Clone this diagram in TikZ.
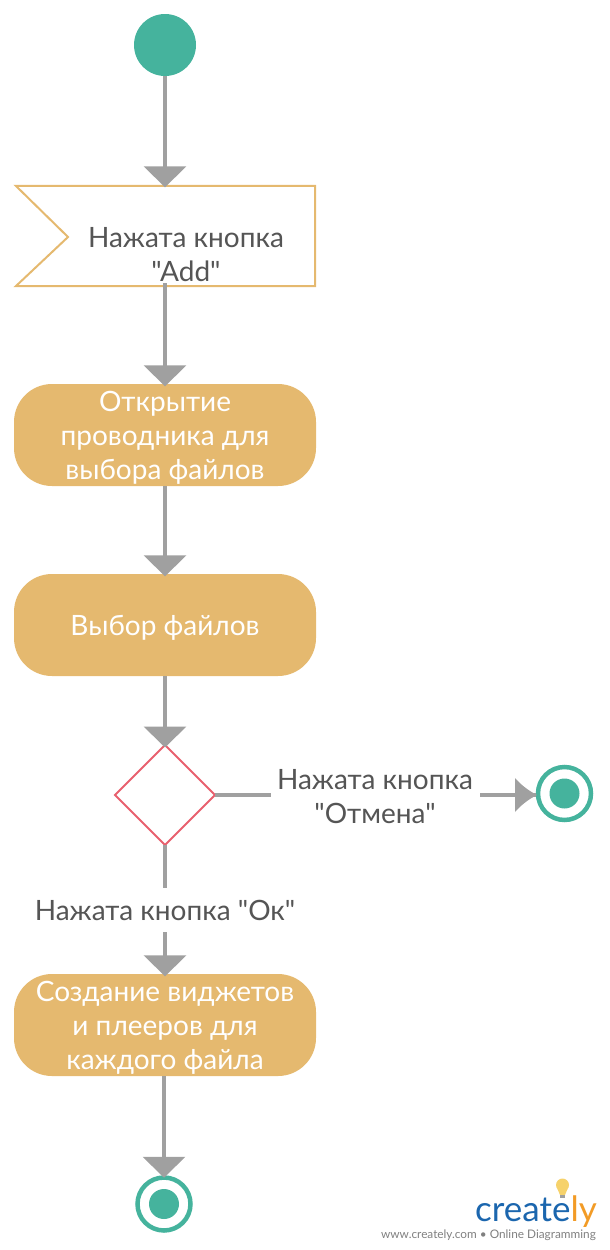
\documentclass[tikz,border=0pt]{standalone}
\usepackage{fontspec}
\newfontfamily\latofont{Lato}
\usetikzlibrary{arrows.meta,shapes.geometric}
\definecolor{teal}{HTML}{45B39D}
\definecolor{sand}{HTML}{E5B96F}
\definecolor{rose}{HTML}{E8606E}
\definecolor{conn}{HTML}{A0A0A0}
\definecolor{ink}{HTML}{555555}
\definecolor{logoblue}{HTML}{1B66AE}
\definecolor{logoorange}{HTML}{F29B26}
\definecolor{bulb}{HTML}{F6D26B}
\tikzset{
  x=1pt,y=-1pt,
  txt/.style={font=\latofont\fontsize{28}{34}\selectfont,text=ink,align=center,inner sep=0pt},
  action/.style={draw=none,fill=sand,rounded corners=38pt,minimum width=302pt,minimum height=102pt,inner sep=0pt},
  actiontext/.style={txt,text=white,yshift=-3pt},
  startdot/.style={circle,fill=teal,minimum size=62pt,inner sep=0pt},
  endring/.style={circle,draw=teal,line width=4.5pt,fill=white,minimum size=53pt,inner sep=0pt},
  enddot/.style={circle,fill=teal,minimum size=30pt,inner sep=0pt},
  flow/.style={draw=conn,line width=4pt,-{Triangle[width=42pt,length=21pt,fill=conn]},shorten >=-2.5pt},
  plainflow/.style={draw=conn,line width=4.3pt},
  labelbox/.style={txt,fill=white,anchor=center},
}
\begin{document}
\begin{tikzpicture}
\useasboundingbox (0,0) rectangle (610,1250);
\node[startdot] (start) at (165,45) {};
\node[minimum width=300pt,minimum height=100pt,inner sep=0pt] (flag) at (165,236) {};
\draw[draw=sand,line width=2pt,line join=miter,fill=white] ([xshift=1pt]flag.north west) -- (flag.north east) -- (flag.south east) -- ([xshift=1pt]flag.south west) -- (68,237) -- cycle;
\node[txt] (flagtext) at (186,255) {Нажата кнопка\\"Add"};
\node[action] (open) at (165,435) {};
\node[actiontext] (opentext) at (open.center) {Открытие\\проводника для\\выбора файлов};
\node[action] (choose) at (165,625) {};
\node[actiontext] (choosetext) at (choose.center) {Выбор файлов};
\node[diamond,draw=rose,line width=2pt,aspect=1,minimum size=100pt,inner sep=0pt,outer sep=0pt] (dec) at (165,795) {};
\node[action] (create) at (165,1025) {};
\node[actiontext] (createtext) at (create.center) {Создание виджетов\\и плееров для\\каждого файла};
\node[endring] (endA) at (564.5,793.5) {};
\node[enddot] at (endA.center) {};
\node[endring] (endB) at (164,1204) {};
\node[enddot] at (endB.center) {};
\draw[flow,shorten >=-1.5pt] (start.south) -- (flag.north);
\draw[flow,shorten <=-3pt] (flag.south) -- (open.north);
\draw[flow] (open.south) -- (choose.north);
\draw[flow] (choose.south) -- (dec.north);
\draw[flow] (dec.south) -- (create.north);
\draw[flow] (create.south -| endB) -- (endB.north);
\draw[plainflow] (dec.east) -- (dec.east -| endA.west);
\fill[conn] (515,778) .. controls (521,785) and (529,791) .. (537,795) .. controls (529,799) and (521,805) .. (515,812) -- cycle;
\node[labelbox,minimum width=209pt,minimum height=60pt] (cancel) at (375,796.5) {Нажата кнопка\\"Отмена"};
\node[labelbox,minimum width=280pt,minimum height=44pt] (ok) at (165,910) {Нажата кнопка "Ок"};
% logo
\fill[bulb] (562.5,1185) circle (6.5pt);
\fill[bulb] (557.5,1189) -- (567.5,1189) -- (565,1195) -- (560,1195) -- cycle;
\fill[conn] (560,1195) rectangle (565,1198);
\node[anchor=base east,inner sep=0pt,font=\latofont\fontsize{35}{35}\selectfont,text=logoblue] (logo) at (597,1221) {create\textcolor{logoorange}{ly}};
\node[anchor=base east,inner sep=0pt,font=\latofont\fontsize{11.8}{12}\selectfont,text=gray] (url) at (596,1238) {www.creately.com • Online Diagramming};
\end{tikzpicture}
\end{document}
